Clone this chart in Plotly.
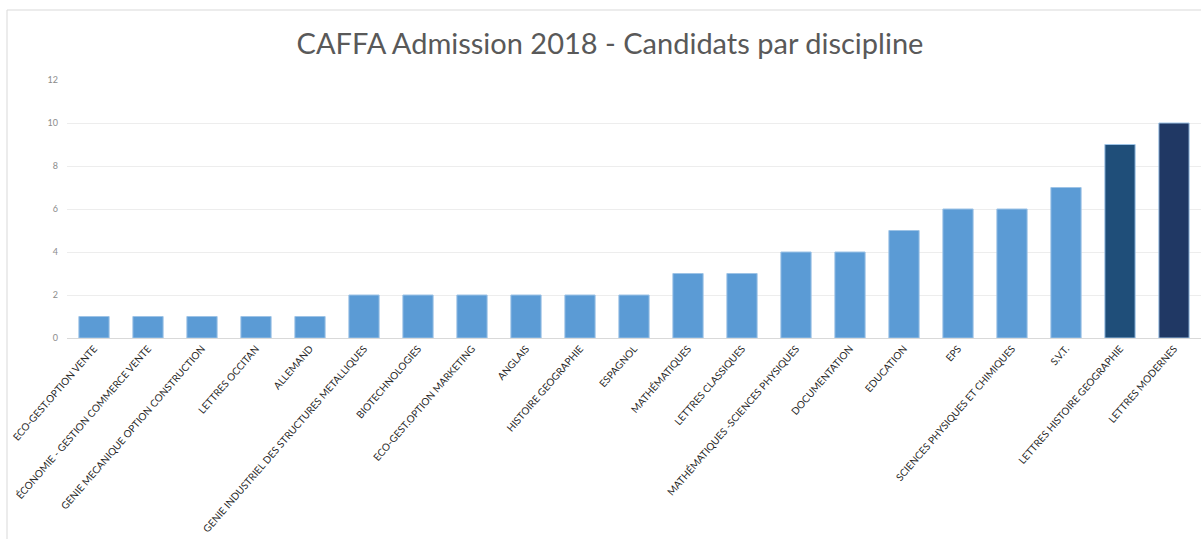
import plotly.graph_objects as go

categories = [
    "ECO-GEST.OPTION VENTE",
    "ÉCONOMIE - GESTION COMMERCE VENTE",
    "GENIE MECANIQUE OPTION CONSTRUCTION",
    "LETTRES OCCITAN",
    "ALLEMAND",
    "GENIE INDUSTRIEL DES STRUCTURES METALLIQUES",
    "BIOTECHNOLOGIES",
    "ECO-GEST.OPTION MARKETING",
    "ANGLAIS",
    "HISTOIRE GEOGRAPHIE",
    "ESPAGNOL",
    "MATHÉMATIQUES",
    "LETTRES CLASSIQUES",
    "MATHÉMATIQUES -SCIENCES PHYSIQUES",
    "DOCUMENTATION",
    "EDUCATION",
    "EPS",
    "SCIENCES PHYSIQUES ET CHIMIQUES",
    "S.V.T.",
    "LETTRES HISTOIRE GEOGRAPHIE",
    "LETTRES MODERNES",
]
candidats = [1, 1, 1, 1, 1, 2, 2, 2, 2, 2, 2, 3, 3, 4, 4, 5, 6, 6, 7, 9, 10]
bar_colors = ["#5B9BD5"] * 19 + ["#1F4E79", "#203864"]
y_ticks = [0, 2, 4, 6, 8, 10, 12]

fig = go.Figure(
    go.Bar(
        x=categories,
        y=candidats,
        marker=dict(color=bar_colors, line=dict(color="#9DC3E6", width=1)),
        width=0.56,
    )
)

W, H = 1201, 539
L, R, T, B = 67, 0, 80, 201
pw, ph = W - L - R, H - T - B

def px2paper_x(px):
    return (px - L) / pw

def px2paper_y(py):
    return (H - B - py) / ph

fig.add_shape(
    type="rect", xref="paper", yref="paper",
    x0=px2paper_x(7), x1=px2paper_x(1260),
    y0=px2paper_y(620), y1=px2paper_y(10),
    line=dict(color="#D9D9D9", width=1), fillcolor="rgba(0,0,0,0)", layer="below",
)

fig.update_layout(
    width=W, height=H,
    margin=dict(l=L, r=R, t=T, b=B, autoexpand=False),
    plot_bgcolor="white", paper_bgcolor="white",
    showlegend=False,
    title=dict(
        text="CAFFA Admission 2018 - Candidats par discipline",
        x=610 / W, xref="container", xanchor="center",
        y=1 - 44 / H, yref="container", yanchor="middle",
        font=dict(family="Lato, Open Sans, sans-serif", size=29, color="#595959"),
    ),
    font=dict(family="Lato, Open Sans, sans-serif"),
)
fig.update_xaxes(
    tickangle=-49, automargin=False,
    tickfont=dict(size=10, color="#262626"),
    showgrid=False, showline=True, linecolor="#D9D9D9", linewidth=1,
    ticks="", ticklen=0,
)
fig.update_yaxes(
    range=[0, 12], tickvals=y_ticks, automargin=False,
    tickfont=dict(size=9, color="#8C8C8C"),
    showgrid=True, gridcolor="#EDEDED", gridwidth=1,
    zeroline=False, showline=False, ticks="", ticklabelstandoff=8,
)

fig.write_html(
    "out.html",
    config={"displayModeBar": False},
    post_script="document.body.style.margin='0';document.body.style.overflow='hidden';",
)
